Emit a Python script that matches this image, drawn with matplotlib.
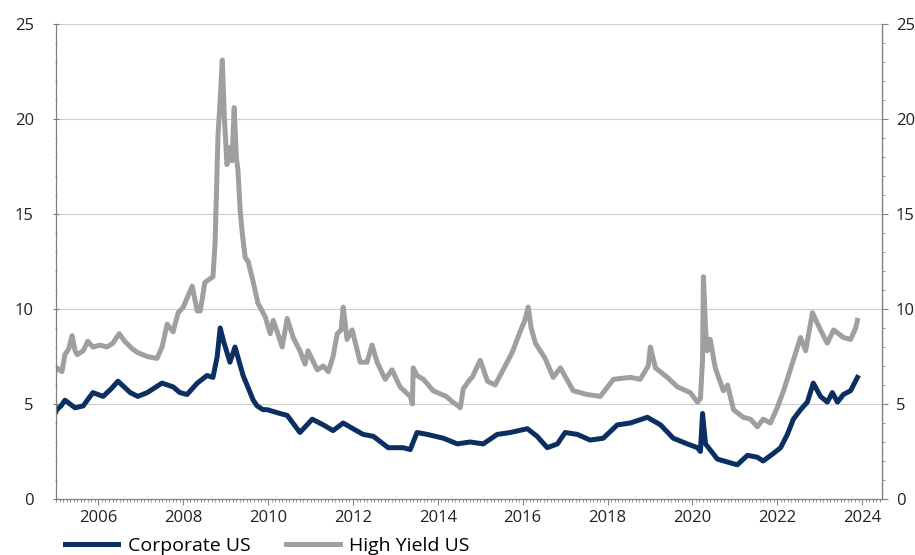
import numpy as np
import matplotlib
matplotlib.use("Agg")
from matplotlib import pyplot as plt
from matplotlib.ticker import MultipleLocator

# rendements (annee decimale, %)
hy_years = [2005.00, 2005.02, 2005.14, 2005.21, 2005.30, 2005.38, 2005.45, 2005.50, 2005.64, 2005.75,
            2005.87, 2006.04, 2006.20, 2006.34, 2006.49, 2006.62, 2006.80, 2006.93, 2007.15, 2007.38,
            2007.50, 2007.62, 2007.76, 2007.88, 2008.00, 2008.21, 2008.33, 2008.40, 2008.51, 2008.70,
            2008.75, 2008.82, 2008.87, 2008.92, 2008.97, 2009.03, 2009.10, 2009.15, 2009.20, 2009.25,
            2009.29, 2009.34, 2009.39, 2009.46, 2009.53, 2009.65, 2009.76, 2009.88, 2009.93, 2010.05,
            2010.12, 2010.20, 2010.33, 2010.45, 2010.59, 2010.75, 2010.87, 2010.94, 2011.16, 2011.30,
            2011.42, 2011.53, 2011.63, 2011.72, 2011.77, 2011.86, 2011.98, 2012.17, 2012.33, 2012.45,
            2012.57, 2012.76, 2012.92, 2013.11, 2013.35, 2013.40, 2013.42, 2013.51, 2013.66, 2013.89,
            2013.99, 2014.20, 2014.35, 2014.48, 2014.53, 2014.60, 2014.76, 2014.81, 2015.00, 2015.17,
            2015.35, 2015.54, 2015.75, 2015.94, 2016.05, 2016.13, 2016.20, 2016.30, 2016.53, 2016.72,
            2016.89, 2017.19, 2017.52, 2017.83, 2018.14, 2018.54, 2018.77, 2018.96, 2019.01, 2019.13,
            2019.41, 2019.65, 2019.95, 2020.12, 2020.19, 2020.24, 2020.26, 2020.31, 2020.35, 2020.42,
            2020.54, 2020.73, 2020.83, 2020.97, 2021.20, 2021.37, 2021.53, 2021.67, 2021.84, 2022.00,
            2022.15, 2022.38, 2022.55, 2022.67, 2022.83, 2023.02, 2023.18, 2023.33, 2023.56, 2023.73,
            2023.85, 2023.89]
hy_values = [6.8, 6.9, 6.7, 7.6, 7.9, 8.6, 7.8, 7.6, 7.8, 8.3,
             8.0, 8.1, 8.0, 8.2, 8.7, 8.3, 7.9, 7.7, 7.5, 7.4,
             8.0, 9.2, 8.8, 9.8, 10.1, 11.2, 9.9, 9.9, 11.4, 11.7,
             13.5, 19.2, 21.0, 23.1, 20.0, 17.6, 18.5, 17.8, 20.6, 18.0,
             17.3, 15.2, 14.0, 12.7, 12.5, 11.4, 10.3, 9.8, 9.6, 8.7,
             9.4, 8.9, 8.0, 9.5, 8.5, 7.8, 7.1, 7.8, 6.8, 7.0,
             6.7, 7.5, 8.7, 8.9, 10.1, 8.4, 8.9, 7.2, 7.2, 8.1,
             7.2, 6.3, 6.8, 5.9, 5.4, 5.0, 6.9, 6.5, 6.3, 5.7,
             5.6, 5.4, 5.1, 4.9, 4.8, 5.8, 6.3, 6.4, 7.3, 6.2,
             6.0, 6.8, 7.7, 8.8, 9.4, 10.1, 9.0, 8.2, 7.4, 6.4,
             6.9, 5.7, 5.5, 5.4, 6.3, 6.4, 6.3, 7.0, 8.0, 6.9,
             6.4, 5.9, 5.6, 5.1, 5.3, 7.3, 11.7, 9.0, 7.8, 8.4,
             6.9, 5.7, 6.0, 4.7, 4.3, 4.2, 3.8, 4.2, 4.0, 4.8,
             5.7, 7.3, 8.5, 7.8, 9.8, 8.9, 8.2, 8.9, 8.5, 8.4,
             9.0, 9.4]

corp_years = [2005.00, 2005.02, 2005.12, 2005.21, 2005.45, 2005.64, 2005.87, 2006.11, 2006.30, 2006.46,
              2006.75, 2006.93, 2007.15, 2007.50, 2007.76, 2007.92, 2008.09, 2008.33, 2008.56, 2008.70,
              2008.80, 2008.87, 2008.95, 2009.10, 2009.22, 2009.41, 2009.65, 2009.74, 2009.88, 2009.98,
              2010.28, 2010.45, 2010.75, 2011.04, 2011.30, 2011.53, 2011.77, 2012.00, 2012.24, 2012.48,
              2012.83, 2013.18, 2013.35, 2013.51, 2013.75, 2014.13, 2014.46, 2014.76, 2015.07, 2015.40,
              2015.71, 2016.11, 2016.34, 2016.58, 2016.82, 2017.00, 2017.29, 2017.59, 2017.90, 2018.23,
              2018.54, 2018.94, 2019.25, 2019.55, 2019.88, 2020.12, 2020.19, 2020.24, 2020.31, 2020.59,
              2020.90, 2021.06, 2021.30, 2021.53, 2021.67, 2021.91, 2022.08, 2022.24, 2022.38, 2022.55,
              2022.71, 2022.85, 2023.02, 2023.18, 2023.30, 2023.42, 2023.56, 2023.73, 2023.89]
corp_values = [4.6, 4.7, 4.9, 5.2, 4.8, 4.9, 5.6, 5.4, 5.8, 6.2,
               5.6, 5.4, 5.6, 6.1, 5.9, 5.6, 5.5, 6.1, 6.5, 6.4,
               7.5, 9.0, 8.3, 7.2, 8.0, 6.5, 5.2, 4.9, 4.7, 4.7,
               4.5, 4.4, 3.5, 4.2, 3.9, 3.6, 4.0, 3.7, 3.4, 3.3,
               2.7, 2.7, 2.6, 3.5, 3.4, 3.2, 2.9, 3.0, 2.9, 3.4,
               3.5, 3.7, 3.3, 2.7, 2.9, 3.5, 3.4, 3.1, 3.2, 3.9,
               4.0, 4.3, 3.9, 3.2, 2.9, 2.7, 2.5, 4.5, 2.9, 2.1,
               1.9, 1.8, 2.3, 2.2, 2.0, 2.4, 2.7, 3.4, 4.2, 4.7,
               5.1, 6.1, 5.4, 5.1, 5.6, 5.1, 5.5, 5.7, 6.4]

y_ticks = [0, 5, 10, 15, 20, 25]
x_ticks = list(range(2006, 2025, 2))

plt.rcParams['font.family'] = ['Open Sans', 'DejaVu Sans']

fig = plt.figure(figsize=(9.15, 5.55), dpi=100)
ax = fig.add_axes([56/915, 1 - 499/555, (882-56)/915, (499-24)/555])

navy = '#0c2f62'
grey = '#9f9f9f'
ax.plot(corp_years, corp_values, color=navy, lw=3.6, label='Corporate US', solid_joinstyle='round')
ax.plot(hy_years, hy_values, color=grey, lw=3.6, label='High Yield US', solid_joinstyle='round')

ax.set_xlim(2005.0, 2024.47)
ax.set_ylim(0, 25)
ax.set_yticks(y_ticks)
ax.yaxis.set_minor_locator(MultipleLocator(1))
ax.set_xticks(x_ticks)
ax.set_xticklabels([str(x) for x in x_ticks])
ax.xaxis.set_minor_locator(MultipleLocator(1/12))

ax.grid(axis='y', color='#cccccc', lw=0.8)
ax.set_axisbelow(True)
ax.spines['top'].set_visible(False)
for s in ['left', 'right', 'bottom']:
    ax.spines[s].set_color('#808080')
    ax.spines[s].set_linewidth(0.9)

ax.tick_params(axis='both', which='major', labelsize=12, colors='#808080', labelcolor='#222222', length=4, width=0.8)
ax.tick_params(axis='both', which='minor', colors='#808080', length=2, width=0.6)
ax.tick_params(axis='y', which='both', direction='inout', pad=14)
ax.tick_params(axis='x', which='both', direction='out', pad=4)

ax2 = ax.twinx()
ax2.set_ylim(0, 25)
ax2.set_yticks(y_ticks)
ax2.yaxis.set_minor_locator(MultipleLocator(1))
for s in ['top', 'left', 'bottom']:
    ax2.spines[s].set_visible(False)
ax2.spines['right'].set_color('#808080')
ax2.tick_params(axis='y', which='major', labelsize=12, colors='#808080', labelcolor='#222222', length=4, width=0.8, pad=6)
ax2.tick_params(axis='y', which='minor', colors='#808080', length=2, width=0.6)

fig.legend(loc='center left', bbox_to_anchor=(47/915, 1 - 546/555), ncol=2, frameon=False,
           fontsize=14, handlelength=2.75, handletextpad=0.5, columnspacing=1.85)

plt.savefig('out.png', dpi=100)
